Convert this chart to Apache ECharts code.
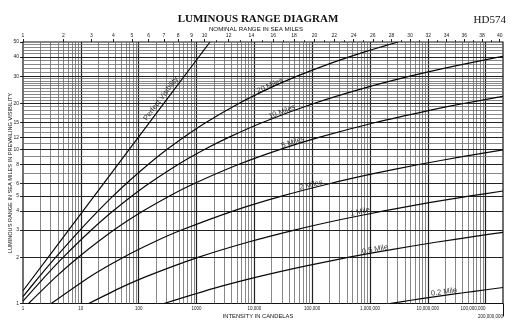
<!DOCTYPE html>
<html><head><meta charset="utf-8">
<script src="https://cdn.jsdelivr.net/npm/echarts@6/dist/echarts.min.js"></script>
<style>html,body{margin:0;padding:0;background:#fff}#c{width:519px;height:331px}</style>
</head><body><div id="c"></div>
<script>
// ---------- DATA ----------
// Bottom axis: intensity in candelas (log)
const intensityTicks = [1, 10, 100, 1000, 10000, 100000, 1000000, 10000000];
const intensityTickLabels = ['1', '10', '100', '1000', '10,000', '100,000', '1,000,000', '10,000,000'];
const intensityTick8 = 100000000, intensityTick8Label = '100,000,000';
const intensityMax = 200000000, intensityMaxLabel = '200,000,000';
// Left axis: luminous range in sea miles (log)
const rangeTicks = [1, 2, 3, 4, 5, 6, 8, 10, 12, 15, 20, 30, 40, 50];
const rangeGridMinor = [7, 9, 11, 13, 14, 16, 17, 18, 19, 21, 22, 23, 24, 25, 26, 27, 28, 29, 32, 34, 36, 38, 42, 44, 46, 48];
// Top axis: nominal range in sea miles, placed at its intensity
const nominalMiles = [1, 2, 3, 4, 5, 6, 7, 8, 9, 10, 12, 14, 16, 18, 20, 22, 24, 26, 28, 30, 32, 34, 36, 38, 40];
const nominalIntensity = [1, 4.99, 15.2, 36.4, 76.7, 149, 274, 482, 823, 1372, 3600, 8910, 21200, 48800, 109700, 241700, 524000, 1119000, 2363000, 4937000, 10230000, 21030000, 42920000, 87050000, 175600000];
const nominalMinorIntensity = [2240, 5690, 13800, 32300, 73400, 163300, 356700, 767000, 1629000, 3421000, 7115000, 14680000, 30060000, 61150000, 123700000];

// Curves: intensity (cd) and luminous range (miles) per meteorological visibility
const perfectI = [1, 10, 100, 1000, 1715];
const perfectD = [1.21, 3.82, 12.1, 38.2, 50];
const miles20I = [1, 1.93, 3.70, 9.68, 20.0, 36.3, 60.7, 146, 307, 596, 1460, 5490, 18100, 55200, 159000, 439000, 1175000, 3070000];
const miles20D = [1.11, 1.5, 2, 3, 4, 5, 6, 8, 10, 12, 15, 20, 25, 30, 35, 40, 45, 50];
const miles10I = [1, 2.42, 4.99, 15.2, 36.4, 76.7, 149, 482, 1372, 3600, 13800, 109700, 767000, 4940000, 30100000, 176000000, 200000000];
const miles10D = [1.035, 1.5, 2, 3, 4, 5, 6, 8, 10, 12, 15, 20, 25, 30, 35, 40, 40.4];
const miles5I = [1.25, 3.79, 9.10, 37.3, 121, 343, 899, 5300, 27400, 131000, 1235000, 10700000, 43900000, 176000000, 200000000];
const miles5D = [1, 1.5, 2, 3, 4, 5, 6, 8, 10, 12, 15, 18, 20, 22, 22.2];
const miles2I = [3.07, 14.6, 54.9, 181, 552, 4390, 30700, 198000, 1200000, 7030000, 39800000, 200000000];
const miles2D = [1, 1.5, 2, 2.5, 3, 4, 5, 6, 7, 8, 9, 9.95];
const miles1I = [13.7, 45.3, 138, 1097, 7670, 49400, 301000, 1756000, 9940000, 54900000, 200000000];
const miles1D = [1, 1.25, 1.5, 2, 2.5, 3, 3.5, 4, 4.5, 5, 5.38];
const miles05I = [274, 1917, 12350, 75200, 439000, 2485000, 13700000, 74300000, 200000000];
const miles05D = [1, 1.25, 1.5, 1.75, 2, 2.25, 2.5, 2.75, 2.9];
const miles02I = [2195000, 5120000, 11900000, 27400000, 63200000, 200000000];
const miles02D = [1, 1.05, 1.1, 1.15, 1.2, 1.27];

// Curve labels
const curveLabelText = ['Perfect Visibility', '20 Miles', '10 Miles', '5 Miles', '2 Miles', '1 Mile', '0.5 Mile', '0.2 Mile'];
const curveLabelI = [243.6, 18700, 30170, 46700, 95700, 674000, 1224000, 19100000];
const curveLabelD = [21.4, 26.0, 17.6, 11.15, 5.9, 3.94, 2.245, 1.188];
const curveLabelAngle = [53, 24, 21, 18, 14, 12.5, 11, 8];

// ---------- CHART ----------
const SANS = '"Liberation Sans", Arial, sans-serif';
const SERIF = '"Liberation Serif", "Times New Roman", serif';
const pair = (a, b) => a.map((v, i) => [v, b[i]]);
function nearestLabel(vals, labels) {
  return function (v) {
    let best = 0, bd = Infinity;
    const lv = Math.log10(v);
    vals.forEach((x, i) => { const d = Math.abs(Math.log10(x) - lv); if (d < bd) { bd = d; best = i; } });
    return String(labels[best]);
  };
}

// grid lines
const vMajor = [10, 100, 1000, 10000, 100000, 1000000, 10000000, 100000000];
const vMinor = [];
[1, 10, 100, 1000, 10000, 100000, 1000000, 10000000, 100000000].forEach(dec => {
  for (let k = 2; k <= 9; k++) { const v = k * dec; if (v < intensityMax) vMinor.push(v); }
});
const gridLines = [];
vMinor.forEach(v => gridLines.push({ xAxis: v, lineStyle: { color: '#6a6a6a', width: 0.8, type: 'solid' } }));
vMajor.forEach(v => gridLines.push({ xAxis: v, lineStyle: { color: '#222', width: 1.2, type: 'solid' } }));
rangeGridMinor.forEach(v => gridLines.push({ yAxis: v, lineStyle: { color: '#6a6a6a', width: 0.8, type: 'solid' } }));
rangeTicks.slice(1, -1).forEach(v => gridLines.push({ yAxis: v, lineStyle: { color: '#222', width: 1.2, type: 'solid' } }));

const curveStyle = { color: '#0a0a0a', width: 1.2 };
function curve(name, I, D) {
  return { name, type: 'line', data: pair(I, D), showSymbol: false, symbol: 'none', smooth: 0.2,
    lineStyle: curveStyle, z: 5, silent: true, clip: true };
}

const axBase = { type: 'log', logBase: 10, min: 1, max: intensityMax, splitLine: { show: false }, axisLine: { show: false } };

const option = {
  animation: false,
  backgroundColor: '#fff',
  grid: { left: 23, right: 16, top: 42, bottom: 27.5, show: true, borderColor: '#111', borderWidth: 1.2, backgroundColor: 'transparent' },
  xAxis: [
    Object.assign({}, axBase, { position: 'bottom',
      axisTick: { show: false },
      axisLabel: { customValues: intensityTicks, formatter: nearestLabel(intensityTicks, intensityTickLabels), fontSize: 4.5, fontFamily: SANS, color: '#222', margin: 3 } }),
    Object.assign({}, axBase, { position: 'top', offset: 0,
      axisTick: { show: true, customValues: nominalIntensity, length: 3, lineStyle: { color: '#222', width: 1 } },
      axisLabel: { customValues: nominalIntensity, formatter: nearestLabel(nominalIntensity, nominalMiles), fontSize: 5, fontFamily: SANS, color: '#222', margin: 3.5 } }),
    Object.assign({}, axBase, { position: 'top', offset: 0,
      axisTick: { show: true, customValues: nominalMinorIntensity, length: 1.8, lineStyle: { color: '#222', width: 1 } },
      axisLabel: { show: false } }),
    Object.assign({}, axBase, { position: 'bottom', offset: 0,
      axisTick: { show: false },
      axisLabel: { customValues: [intensityTick8], formatter: () => intensityTick8Label, align: 'right', fontSize: 4.5, fontFamily: SANS, color: '#222', margin: 3 } }),
    Object.assign({}, axBase, { position: 'bottom', offset: 0,
      axisTick: { show: true, customValues: [intensityMax * 0.99999], length: 13, lineStyle: { color: '#111', width: 1 } },
      axisLabel: { customValues: [intensityMax * 0.99999], formatter: () => intensityMaxLabel, align: 'right', fontSize: 4.5, fontFamily: SANS, color: '#222', margin: 11 } })
  ],
  yAxis: [{
    type: 'log', logBase: 10, min: 1, max: 50, splitLine: { show: false }, axisLine: { show: false },
    axisTick: { show: true, customValues: rangeTicks, length: 3, lineStyle: { color: '#222', width: 1 } },
    axisLabel: { customValues: rangeTicks, fontSize: 5, fontFamily: SANS, color: '#222', margin: 4 }
  }],
  graphic: [
    { type: 'text', x: 258, y: 19, style: { text: 'LUMINOUS RANGE DIAGRAM', font: 'bold 11px ' + SERIF, fill: '#111', align: 'center', verticalAlign: 'middle' } },
    { type: 'text', x: 506, y: 20, style: { text: 'HD574', font: '11px ' + SERIF, fill: '#111', align: 'right', verticalAlign: 'middle' } },
    { type: 'text', x: 256, y: 29, style: { text: 'NOMINAL RANGE IN SEA MILES', font: '6.2px ' + SANS, fill: '#111', align: 'center', verticalAlign: 'middle' } },
    { type: 'text', x: 258, y: 316, style: { text: 'INTENSITY IN CANDELAS', font: '5.8px ' + SANS, fill: '#111', align: 'center', verticalAlign: 'middle' } },
    { type: 'text', x: 10, y: 173, rotation: Math.PI / 2, style: { text: 'LUMINOUS RANGE IN SEA MILES IN PREVAILING VISIBILITY', font: '5.6px ' + SANS, fill: '#111', align: 'center', verticalAlign: 'middle' } }
  ],
  series: [
    { type: 'line', data: [], silent: true, z: 1,
      markLine: { silent: true, symbol: ['none', 'none'], label: { show: false }, animation: false, data: gridLines } },
    curve('Perfect Visibility', perfectI, perfectD),
    curve('20 Miles', miles20I, miles20D),
    curve('10 Miles', miles10I, miles10D),
    curve('5 Miles', miles5I, miles5D),
    curve('2 Miles', miles2I, miles2D),
    curve('1 Mile', miles1I, miles1D),
    curve('0.5 Mile', miles05I, miles05D),
    curve('0.2 Mile', miles02I, miles02D),
    { type: 'scatter', silent: true, z: 10, symbolSize: 1, itemStyle: { color: 'transparent' },
      data: curveLabelText.map((t, i) => ({ value: [curveLabelI[i], curveLabelD[i]],
        label: { show: true, position: 'inside', formatter: t, rotate: curveLabelAngle[i], fontSize: 7.5, fontFamily: SANS, color: '#000' } })) }
  ]
};
const chart = echarts.init(document.getElementById('c'));
chart.setOption(option);
</script></body></html>
